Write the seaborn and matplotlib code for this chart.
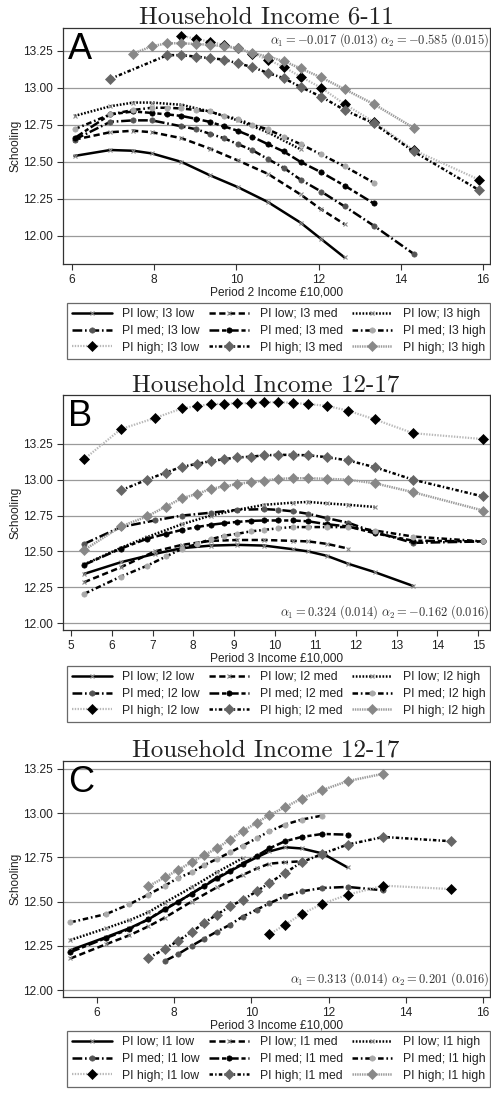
import matplotlib
matplotlib.use("Agg")
import matplotlib.pyplot as plt
import seaborn as sns
import pandas as pd

# ---------------- DATA ----------------
# Panel A: Household Income 6-11, x = Period 2 income (GBP 10,000)
A1_x = [6.06, 6.93, 7.49, 7.94, 8.66, 9.35, 10.03, 10.76, 11.56, 12.06, 12.63]
A1_y = [12.54, 12.58, 12.575, 12.557, 12.50, 12.41, 12.33, 12.23, 12.09, 11.98, 11.855]
A2_x = [6.06, 6.93, 7.49, 7.94, 8.66, 9.35, 10.03, 10.76, 11.56, 12.06, 12.63]
A2_y = [12.65, 12.70, 12.71, 12.70, 12.66, 12.59, 12.51, 12.42, 12.28, 12.18, 12.08]
A3_x = [6.06, 6.93, 7.49, 7.94, 8.66, 9.35, 10.03, 10.76, 11.56]
A3_y = [12.81, 12.875, 12.90, 12.90, 12.885, 12.84, 12.78, 12.70, 12.585]
A4_x = [6.06, 6.93, 7.49, 7.94, 8.66, 9.02, 9.35, 9.69, 10.03, 10.38, 10.76, 11.15, 11.56, 12.06, 12.63, 13.34, 14.31]
A4_y = [12.65, 12.77, 12.78, 12.78, 12.74, 12.72, 12.69, 12.66, 12.62, 12.58, 12.52, 12.46, 12.38, 12.30, 12.20, 12.07, 11.88]
A5_x = [6.06, 6.93, 7.49, 7.94, 8.32, 8.66, 9.02, 9.35, 9.69, 10.03, 10.38, 10.76, 11.15, 11.56, 12.06, 12.63, 13.34]
A5_y = [12.66, 12.82, 12.84, 12.83, 12.82, 12.81, 12.79, 12.77, 12.74, 12.71, 12.67, 12.62, 12.57, 12.50, 12.43, 12.34, 12.22]
A6_x = [6.06, 6.93, 7.49, 7.94, 8.32, 8.66, 9.02, 9.35, 9.69, 10.03, 10.38, 10.76, 11.15, 11.56, 12.06, 12.63, 13.34]
A6_y = [12.72, 12.82, 12.85, 12.865, 12.865, 12.86, 12.85, 12.84, 12.81, 12.79, 12.75, 12.72, 12.67, 12.62, 12.55, 12.47, 12.36]
A7_x = [8.66, 9.02, 9.35, 9.69, 10.03, 10.38, 10.76, 11.15, 11.56, 12.06, 12.63, 13.34, 14.31, 15.90]
A7_y = [13.35, 13.33, 13.31, 13.29, 13.265, 13.23, 13.19, 13.14, 13.075, 13.00, 12.89, 12.77, 12.58, 12.38]
A8_x = [6.93, 8.32, 8.66, 9.02, 9.35, 9.69, 10.03, 10.38, 10.76, 11.15, 11.56, 12.06, 12.63, 13.34, 14.31, 15.90]
A8_y = [13.06, 13.22, 13.22, 13.21, 13.20, 13.19, 13.165, 13.14, 13.10, 13.065, 13.005, 12.94, 12.85, 12.76, 12.57, 12.31]
A9_x = [7.49, 7.94, 8.32, 8.66, 9.02, 9.35, 9.69, 10.03, 10.38, 10.76, 11.15, 11.56, 12.06, 12.63, 13.34, 14.31]
A9_y = [13.23, 13.28, 13.30, 13.30, 13.295, 13.29, 13.28, 13.265, 13.235, 13.21, 13.18, 13.13, 13.07, 12.99, 12.89, 12.73]

# Panel B: Household Income 12-17, x = Period 3 income, grouped by I2
B1_x = [5.32, 6.22, 7.05, 7.72, 8.43, 9.08, 9.74, 10.44, 10.83, 11.28, 11.81, 12.46, 13.40]
B1_y = [12.344, 12.425, 12.483, 12.523, 12.541, 12.546, 12.541, 12.516, 12.50, 12.47, 12.414, 12.356, 12.26]
B2_x = [5.32, 6.22, 7.05, 7.72, 8.43, 9.08, 9.74, 10.44, 10.83, 11.28, 11.81]
B2_y = [12.286, 12.39, 12.50, 12.546, 12.574, 12.58, 12.58, 12.574, 12.57, 12.553, 12.52]
B3_x = [5.32, 6.22, 6.86, 7.72, 8.43, 9.08, 9.74, 10.44, 10.83, 11.28, 11.81, 12.46]
B3_y = [12.41, 12.525, 12.60, 12.69, 12.75, 12.79, 12.825, 12.84, 12.845, 12.835, 12.825, 12.81]
B4_x = [5.32, 6.22, 7.05, 7.72, 8.43, 9.08, 9.74, 10.09, 10.44, 10.83, 11.28, 11.81, 12.46, 13.40, 15.12]
B4_y = [12.553, 12.67, 12.716, 12.75, 12.77, 12.79, 12.795, 12.79, 12.78, 12.762, 12.732, 12.70, 12.634, 12.56, 12.57]
B5_x = [5.32, 6.22, 6.86, 7.33, 7.72, 8.09, 8.43, 8.76, 9.08, 9.41, 9.74, 10.09, 10.44, 10.83, 11.28, 11.81, 12.46, 13.40, 15.12]
B5_y = [12.407, 12.52, 12.588, 12.623, 12.65, 12.67, 12.686, 12.697, 12.706, 12.713, 12.716, 12.716, 12.716, 12.71, 12.69, 12.674, 12.627, 12.575, 12.57]
B6_x = [5.32, 6.22, 6.86, 7.33, 7.72, 8.09, 8.43, 8.76, 9.08, 9.41, 9.74, 10.09, 10.44, 10.83, 11.28, 11.81, 12.46, 13.40, 15.12]
B6_y = [12.205, 12.325, 12.40, 12.465, 12.518, 12.553, 12.585, 12.61, 12.623, 12.64, 12.65, 12.662, 12.67, 12.67, 12.67, 12.67, 12.646, 12.604, 12.57]
B7_x = [5.32, 6.22, 7.05, 7.72, 8.09, 8.43, 8.76, 9.08, 9.41, 9.74, 10.09, 10.44, 10.83, 11.28, 11.81, 12.46, 13.40, 15.12]
B7_y = [13.143, 13.352, 13.429, 13.496, 13.513, 13.526, 13.529, 13.533, 13.533, 13.54, 13.54, 13.536, 13.526, 13.515, 13.48, 13.42, 13.324, 13.283]
B8_x = [6.22, 6.86, 7.33, 7.72, 8.09, 8.43, 8.76, 9.08, 9.41, 9.74, 10.09, 10.44, 10.83, 11.28, 11.81, 12.46, 13.40, 15.12]
B8_y = [12.925, 13.0, 13.05, 13.09, 13.11, 13.13, 13.143, 13.155, 13.16, 13.17, 13.173, 13.173, 13.17, 13.157, 13.134, 13.087, 13.0, 12.883]
B9_x = [5.32, 6.22, 6.86, 7.33, 7.72, 8.09, 8.43, 8.76, 9.08, 9.41, 9.74, 10.09, 10.44, 10.83, 11.28, 11.81, 12.46, 13.40, 15.12]
B9_y = [12.51, 12.674, 12.744, 12.813, 12.871, 12.90, 12.936, 12.953, 12.97, 12.983, 12.994, 13.006, 13.01, 13.01, 13.006, 13.0, 12.975, 12.913, 12.785]

# Panel C: Household Income 12-17, x = Period 3 income, grouped by I1
C1_x = [5.31, 6.24, 6.84, 7.33, 7.76, 8.45, 9.10, 9.77, 10.14, 10.46, 10.87, 11.30, 11.84, 12.49]
C1_y = [12.226, 12.30, 12.35, 12.40, 12.455, 12.545, 12.63, 12.71, 12.75, 12.783, 12.807, 12.80, 12.772, 12.693]
C2_x = [5.31, 6.24, 6.84, 7.33, 7.76, 8.45, 9.10, 9.77, 10.14, 10.46, 10.87, 11.30]
C2_y = [12.179, 12.26, 12.31, 12.36, 12.41, 12.50, 12.58, 12.65, 12.687, 12.714, 12.722, 12.728]
C3_x = [5.31, 6.24, 6.84, 7.33, 7.76, 8.45, 9.10, 9.77]
C3_y = [12.283, 12.35, 12.395, 12.44, 12.495, 12.58, 12.665, 12.745]
C4_x = [7.76, 8.11, 8.45, 8.77, 9.10, 9.45, 9.77, 10.14, 10.46, 10.87, 11.30, 11.84, 12.49, 13.42]
C4_y = [12.165, 12.205, 12.25, 12.29, 12.33, 12.37, 12.415, 12.455, 12.49, 12.53, 12.558, 12.577, 12.583, 12.564]
C5_x = [5.31, 6.24, 6.84, 7.33, 7.76, 8.11, 8.45, 8.77, 9.10, 9.45, 9.77, 10.14, 10.46, 10.87, 11.30, 11.84, 12.49]
C5_y = [12.215, 12.295, 12.345, 12.40, 12.46, 12.50, 12.545, 12.59, 12.635, 12.675, 12.715, 12.758, 12.80, 12.841, 12.865, 12.882, 12.878]
C6_x = [5.31, 6.24, 6.84, 7.33, 7.76, 8.11, 8.45, 8.77, 9.10, 9.45, 9.77, 10.14, 10.46, 10.87, 11.30, 11.84]
C6_y = [12.383, 12.43, 12.485, 12.54, 12.59, 12.635, 12.665, 12.705, 12.74, 12.778, 12.815, 12.858, 12.896, 12.935, 12.963, 12.986]
C7_x = [10.46, 10.87, 11.30, 11.84, 12.49, 13.42, 15.17]
C7_y = [12.315, 12.369, 12.43, 12.488, 12.539, 12.59, 12.571]
C8_x = [7.33, 7.76, 8.11, 8.45, 8.77, 9.10, 9.45, 9.77, 10.14, 10.46, 10.87, 11.30, 11.84, 12.49, 13.42, 15.17]
C8_y = [12.181, 12.234, 12.28, 12.328, 12.379, 12.426, 12.473, 12.51, 12.558, 12.605, 12.662, 12.722, 12.77, 12.822, 12.865, 12.841]
C9_x = [7.33, 7.76, 8.11, 8.45, 8.77, 9.10, 9.45, 9.77, 10.14, 10.46, 10.87, 11.30, 11.84, 12.49, 13.42]
C9_y = [12.587, 12.637, 12.68, 12.722, 12.762, 12.80, 12.85, 12.897, 12.945, 12.988, 13.033, 13.082, 13.13, 13.18, 13.222]

pi_levels = ["low", "med", "high"]
panel_titles = ["Household Income 6-11", "Household Income 12-17", "Household Income 12-17"]
panel_letters = ["A", "B", "C"]
panel_groups = ["I3", "I2", "I1"]
panel_xlabels = ["Period 2 Income \u00a310,000", "Period 3 Income \u00a310,000", "Period 3 Income \u00a310,000"]
panel_notes = [r"$\alpha_1 = -0.017\ (0.013)\ \alpha_2 = -0.585\ (0.015)$",
               r"$\alpha_1 = 0.324\ (0.014)\ \alpha_2 = -0.162\ (0.016)$",
               r"$\alpha_1 = 0.313\ (0.014)\ \alpha_2 = 0.201\ (0.016)$"]
y_ticks = [12.00, 12.25, 12.50, 12.75, 13.00, 13.25]
x_ticks_A = [6, 8, 10, 12, 14, 16]
x_ticks_B = [5, 6, 7, 8, 9, 10, 11, 12, 13, 14, 15]
x_ticks_C = [6, 8, 10, 12, 14, 16]

series = [
    [(A1_x, A1_y), (A2_x, A2_y), (A3_x, A3_y), (A4_x, A4_y), (A5_x, A5_y),
     (A6_x, A6_y), (A7_x, A7_y), (A8_x, A8_y), (A9_x, A9_y)],
    [(B1_x, B1_y), (B2_x, B2_y), (B3_x, B3_y), (B4_x, B4_y), (B5_x, B5_y),
     (B6_x, B6_y), (B7_x, B7_y), (B8_x, B8_y), (B9_x, B9_y)],
    [(C1_x, C1_y), (C2_x, C2_y), (C3_x, C3_y), (C4_x, C4_y), (C5_x, C5_y),
     (C6_x, C6_y), (C7_x, C7_y), (C8_x, C8_y), (C9_x, C9_y)],
]

# ---------------- STYLE ----------------
sns.set_theme(style="white")
plt.rcParams["font.family"] = ["Liberation Sans", "DejaVu Sans"]
plt.rcParams["mathtext.fontset"] = "cm"
plt.rcParams["lines.scale_dashes"] = False
plt.rcParams["axes.unicode_minus"] = True

LW = 1.8
styles = [
    dict(color="black", linestyle="-", linewidth=LW, marker="x", markersize=2.5,
         markeredgecolor="#888888", markerfacecolor="#888888", markeredgewidth=0.8),
    dict(color="black", linestyle=(0, (4.5, 2.5)), linewidth=LW, marker="x", markersize=2.5,
         markeredgecolor="#888888", markerfacecolor="#888888", markeredgewidth=0.8),
    dict(color="black", linestyle=(0, (1.2, 1.2)), linewidth=LW, marker="x", markersize=2.5,
         markeredgecolor="#888888", markerfacecolor="#888888", markeredgewidth=0.8),
    dict(color="black", linestyle=(0, (7, 2, 1.2, 2)), linewidth=LW, marker="o", markersize=3.8,
         markeredgecolor="#555555", markerfacecolor="#555555", markeredgewidth=0.5),
    dict(color="black", linestyle=(0, (7, 2, 3, 2)), linewidth=LW, marker="o", markersize=3.8,
         markeredgecolor="black", markerfacecolor="black", markeredgewidth=0.5),
    dict(color="black", linestyle=(0, (4, 2, 1.2, 2)), linewidth=LW, marker="o", markersize=3.8,
         markeredgecolor="#aaaaaa", markerfacecolor="#aaaaaa", markeredgewidth=0.5),
    dict(color="#b8b8b8", linestyle=(0, (1, 1)), linewidth=1.6, marker="D", markersize=4.8,
         markeredgecolor="black", markerfacecolor="black", markeredgewidth=0.5),
    dict(color="black", linestyle=(0, (2.5, 1.6, 1, 1.6)), linewidth=LW, marker="D", markersize=4.8,
         markeredgecolor="#666666", markerfacecolor="#666666", markeredgewidth=0.5),
    dict(color="#9a9a9a", linestyle=(0, (1, 0.7)), linewidth=1.8, marker="D", markersize=4.8,
         markeredgecolor="#888888", markerfacecolor="#888888", markeredgewidth=0.5),
]

W, H = 491, 1093
fig = plt.figure(figsize=(W / 100, H / 100), dpi=100)

# axes boxes in pixel coords: (top, bottom)
ax_px = [(28.3, 264.3), (395.0, 630.0), (761.3, 997.3)]
left_px, right_px = 63.0, 490.0
xlims = [(5.78, 16.17), (4.80, 15.29), (5.12, 16.18)]
ylims = [(11.809, 13.401), (11.953, 13.59), (11.96, 13.292)]
xticks_all = [x_ticks_A, x_ticks_B, x_ticks_C]
title_base_px = [23.5, 391.5, 756.5]
legend_top_px = [303.0, 666.0, 1031.0]
note_pos = [(0.998, 0.988, "top"), (0.998, 0.04, "bottom"), (0.998, 0.04, "bottom")]

order = [0, 3, 6, 1, 4, 7, 2, 5, 8]

for p in range(3):
    top, bot = ax_px[p]
    ax = fig.add_axes([left_px / W, 1 - bot / H, (right_px - left_px) / W, (bot - top) / H])
    for k, (xs, ys) in enumerate(series[p]):
        lab = "PI %s; %s %s" % (pi_levels[k // 3], panel_groups[p], pi_levels[k % 3])
        df = pd.DataFrame({"x": xs, "y": ys})
        sns.lineplot(data=df, x="x", y="y", ax=ax, estimator=None, sort=False,
                     legend=False, label=lab, **styles[k])
    if ax.get_legend() is not None:
        ax.get_legend().remove()
    ax.set_xlim(*xlims[p])
    ax.set_ylim(*ylims[p])
    ax.set_xticks(xticks_all[p])
    ax.set_xticklabels([str(t) for t in xticks_all[p]])
    ax.set_yticks(y_ticks)
    ax.set_yticklabels(["%.2f" % t for t in y_ticks])
    ax.yaxis.grid(True, color="#9a9a9a", linewidth=0.9)
    ax.xaxis.grid(False)
    ax.set_axisbelow(True)
    for s in ax.spines.values():
        s.set_color("#333333")
        s.set_linewidth(0.9)
    ax.tick_params(axis="both", direction="out", length=4.5, width=0.8, color="#333333",
                   labelsize=8.6, labelcolor="#222222", pad=2.5,
                   bottom=True, left=True, top=False, right=False)
    ax.set_xlabel(panel_xlabels[p], fontsize=8.6, color="#222222", labelpad=0.5)
    ax.set_ylabel("Schooling", fontsize=8.6, color="#222222")
    ax.yaxis.set_label_coords((21.5 - left_px) / (right_px - left_px), 0.5)
    ax.text(0.012, 0.985, panel_letters[p], transform=ax.transAxes, fontsize=26,
            ha="left", va="top", color="black")
    nx, ny, nva = note_pos[p]
    ax.text(nx, ny, panel_notes[p], transform=ax.transAxes, fontsize=9,
            ha="right", va=nva, color="#333333")
    fig.text(266 / W, 1 - title_base_px[p] / H, panel_titles[p], fontfamily="cmr10",
             fontsize=18, ha="center", va="baseline", color="#222222")

    lines = ax.get_lines()
    handles = [lines[i] for i in order]
    labels = [lines[i].get_label() for i in order]
    leg = fig.legend(handles, labels, loc="upper center",
                     bbox_to_anchor=(278.5 / W, 1 - legend_top_px[p] / H),
                     bbox_transform=fig.transFigure, ncol=3, frameon=True, fancybox=False,
                     edgecolor="#444444", fontsize=8.8, handlelength=3.3, handletextpad=0.85,
                     columnspacing=0.75, labelspacing=0.4, borderpad=0.4, borderaxespad=0,
                     numpoints=1)
    leg.get_frame().set_linewidth(0.9)
    for t in leg.get_texts():
        t.set_color("#222222")

fig.savefig("out.png", dpi=100)
